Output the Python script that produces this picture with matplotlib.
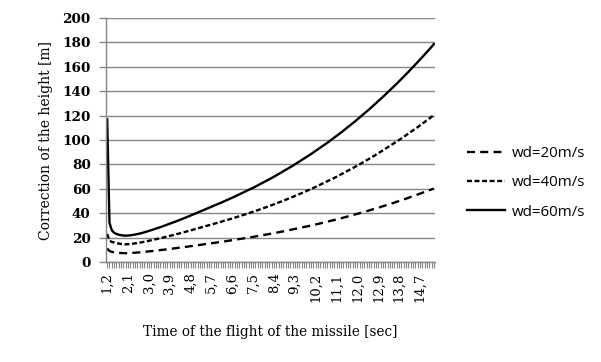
import matplotlib
matplotlib.use("Agg")
import matplotlib.pyplot as plt

# flight time categories (sec)
times = ["1,2", "1,3", "1,4", "1,5", "1,6", "1,7", "1,8", "1,9", "2,0", "2,1",
         "2,2", "2,3", "2,4", "2,5", "2,6", "2,7", "2,8", "2,9", "3,0", "3,1",
         "3,2", "3,3", "3,4", "3,5", "3,6", "3,7", "3,8", "3,9", "4,0", "4,1",
         "4,2", "4,3", "4,4", "4,5", "4,6", "4,7", "4,8", "4,9", "5,0", "5,1",
         "5,2", "5,3", "5,4", "5,5", "5,6", "5,7", "5,8", "5,9", "6,0", "6,1",
         "6,2", "6,3", "6,4", "6,5", "6,6", "6,7", "6,8", "6,9", "7,0", "7,1",
         "7,2", "7,3", "7,4", "7,5", "7,6", "7,7", "7,8", "7,9", "8,0", "8,1",
         "8,2", "8,3", "8,4", "8,5", "8,6", "8,7", "8,8", "8,9", "9,0", "9,1",
         "9,2", "9,3", "9,4", "9,5", "9,6", "9,7", "9,8", "9,9", "10,0", "10,1",
         "10,2", "10,3", "10,4", "10,5", "10,6", "10,7", "10,8", "10,9", "11,0", "11,1",
         "11,2", "11,3", "11,4", "11,5", "11,6", "11,7", "11,8", "11,9", "12,0", "12,1",
         "12,2", "12,3", "12,4", "12,5", "12,6", "12,7", "12,8", "12,9", "13,0", "13,1",
         "13,2", "13,3", "13,4", "13,5", "13,6", "13,7", "13,8", "13,9", "14,0", "14,1",
         "14,2", "14,3", "14,4", "14,5", "14,6", "14,7", "14,8", "14,9", "15,0", "15,1",
         "15,2", "15,3"]

wd20 = [11.0, 9.0, 8.3, 8.0, 7.7, 7.5, 7.4, 7.3, 7.2, 7.3,
        7.4, 7.5, 7.6, 7.8, 7.9, 8.1, 8.3, 8.5, 8.7, 8.9,
        9.1, 9.3, 9.5, 9.8, 10.0, 10.2, 10.5, 10.7, 10.9, 11.2,
        11.4, 11.7, 11.9, 12.2, 12.4, 12.7, 13.0, 13.2, 13.5, 13.8,
        14.0, 14.3, 14.6, 14.8, 15.1, 15.4, 15.6, 15.9, 16.2, 16.4,
        16.7, 17.0, 17.3, 17.6, 17.9, 18.2, 18.5, 18.8, 19.1, 19.4,
        19.7, 20.0, 20.3, 20.6, 20.9, 21.3, 21.6, 21.9, 22.3, 22.6,
        23.0, 23.3, 23.7, 24.0, 24.4, 24.8, 25.1, 25.5, 25.9, 26.3,
        26.7, 27.1, 27.5, 27.9, 28.3, 28.7, 29.1, 29.5, 29.9, 30.4,
        30.8, 31.2, 31.7, 32.1, 32.6, 33.0, 33.5, 34.0, 34.4, 34.9,
        35.4, 35.9, 36.4, 36.9, 37.4, 37.9, 38.4, 39.0, 39.5, 40.0,
        40.6, 41.1, 41.7, 42.2, 42.8, 43.4, 43.9, 44.5, 45.1, 45.7,
        46.3, 46.9, 47.5, 48.1, 48.7, 49.4, 50.0, 50.6, 51.3, 51.9,
        52.6, 53.3, 53.9, 54.6, 55.3, 56.0, 56.7, 57.4, 58.1, 58.8,
        59.5, 60.2]

wd40 = [23.0, 17.5, 16.5, 16.0, 15.5, 15.1, 14.8, 14.6, 14.5, 14.6,
        14.8, 15.0, 15.3, 15.5, 15.9, 16.2, 16.6, 17.0, 17.4, 17.8,
        18.2, 18.7, 19.1, 19.5, 20.0, 20.5, 20.9, 21.4, 21.9, 22.3,
        22.9, 23.3, 23.9, 24.3, 24.9, 25.4, 25.9, 26.5, 27.0, 27.5,
        28.1, 28.6, 29.1, 29.7, 30.2, 30.7, 31.3, 31.8, 32.3, 32.9,
        33.5, 34.0, 34.6, 35.1, 35.7, 36.3, 36.9, 37.5, 38.1, 38.7,
        39.3, 39.9, 40.6, 41.2, 41.9, 42.5, 43.2, 43.9, 44.5, 45.2,
        45.9, 46.6, 47.3, 48.1, 48.8, 49.5, 50.3, 51.0, 51.8, 52.5,
        53.3, 54.1, 54.9, 55.7, 56.5, 57.3, 58.2, 59.0, 59.9, 60.7,
        61.6, 62.5, 63.3, 64.3, 65.1, 66.1, 67.0, 67.9, 68.9, 69.9,
        70.8, 71.8, 72.8, 73.8, 74.8, 75.8, 76.9, 77.9, 79.0, 80.1,
        81.1, 82.2, 83.3, 84.5, 85.6, 86.7, 87.9, 89.1, 90.2, 91.4,
        92.6, 93.8, 95.0, 96.3, 97.5, 98.7, 100.0, 101.3, 102.5, 103.9,
        105.2, 106.5, 107.9, 109.2, 110.5, 111.9, 113.3, 114.7, 116.1, 117.5,
        119.0, 120.4]

wd60 = [117.0, 32.0, 26.0, 24.0, 23.0, 22.4, 22.0, 21.7, 21.6, 21.7,
        21.9, 22.2, 22.5, 22.9, 23.3, 23.8, 24.3, 24.9, 25.5, 26.1,
        26.7, 27.3, 28.0, 28.6, 29.3, 30.0, 30.7, 31.4, 32.1, 32.8,
        33.5, 34.3, 35.0, 35.8, 36.5, 37.3, 38.1, 38.9, 39.7, 40.5,
        41.3, 42.1, 42.9, 43.7, 44.5, 45.3, 46.1, 46.9, 47.7, 48.5,
        49.3, 50.2, 51.0, 51.9, 52.7, 53.6, 54.5, 55.4, 56.3, 57.2,
        58.1, 59.0, 59.9, 60.9, 61.8, 62.8, 63.8, 64.8, 65.8, 66.8,
        67.8, 68.9, 69.9, 71.0, 72.1, 73.2, 74.3, 75.4, 76.5, 77.7,
        78.8, 80.0, 81.2, 82.4, 83.6, 84.8, 86.0, 87.3, 88.5, 89.8,
        91.1, 92.4, 93.7, 95.0, 96.4, 97.7, 99.1, 100.5, 101.9, 103.3,
        104.8, 106.2, 107.7, 109.2, 110.7, 112.2, 113.7, 115.3, 116.9, 118.5,
        120.1, 121.7, 123.3, 125.0, 126.7, 128.4, 130.1, 131.8, 133.6, 135.3,
        137.1, 138.9, 140.7, 142.5, 144.4, 146.2, 148.1, 150.0, 151.9, 153.8,
        155.8, 157.8, 159.8, 161.8, 163.8, 165.8, 167.9, 170.0, 172.1, 174.2,
        176.3, 178.6]

yticks = [0, 20, 40, 60, 80, 100, 120, 140, 160, 180, 200]
label_step = 9

serif = "DejaVu Serif"
grey = "#868686"

fig = plt.figure(figsize=(6.01, 3.62), dpi=100)
ax = fig.add_axes([0.1764, 0.2762, 0.5474, 0.6741])

x = list(range(len(times)))
ax.plot(x, wd20, color="black", lw=1.7, linestyle=(0, (3.4, 2.2)), label="wd=20m/s")
ax.plot(x, wd40, color="black", lw=1.7, linestyle=(0, (2.1, 1.1)), label="wd=40m/s")
ax.plot(x, wd60, color="black", lw=1.7, label="wd=60m/s")

ax.set_xlim(-0.5, len(times) - 0.5)
ax.set_ylim(0, 200)
ax.set_yticks(yticks)
ax.set_yticklabels([str(v) for v in yticks], fontfamily=serif, fontweight="bold", fontsize=9.7)
ax.grid(axis="y", color=grey, lw=1)
ax.set_axisbelow(True)

ax.set_xticks(x[::label_step])
ax.set_xticklabels(times[::label_step], rotation=90, fontfamily=serif, fontsize=9.5)
ax.set_xticks(x, minor=True)
ax.tick_params(axis="x", which="both", length=4, color=grey, width=0.8)
ax.tick_params(axis="y", length=5, color=grey, width=1, pad=6)

for s in ["top", "right"]:
    ax.spines[s].set_visible(False)
for s in ["left", "bottom"]:
    ax.spines[s].set_color(grey)
    ax.spines[s].set_linewidth(1)

ax.set_xlabel("Time of the flight of the missile [sec]", fontfamily=serif, fontsize=9.8, labelpad=17)
ax.set_ylabel("Correction of the height [m]", fontfamily=serif, fontsize=10, labelpad=7)

fig.legend(loc="center left", bbox_to_anchor=(0.755, 0.495), frameon=False,
           prop={"family": "Open Sans", "size": 10.8}, handlelength=2.5,
           handletextpad=0.5, labelspacing=0.95)

fig.savefig("out.png", dpi=100)
